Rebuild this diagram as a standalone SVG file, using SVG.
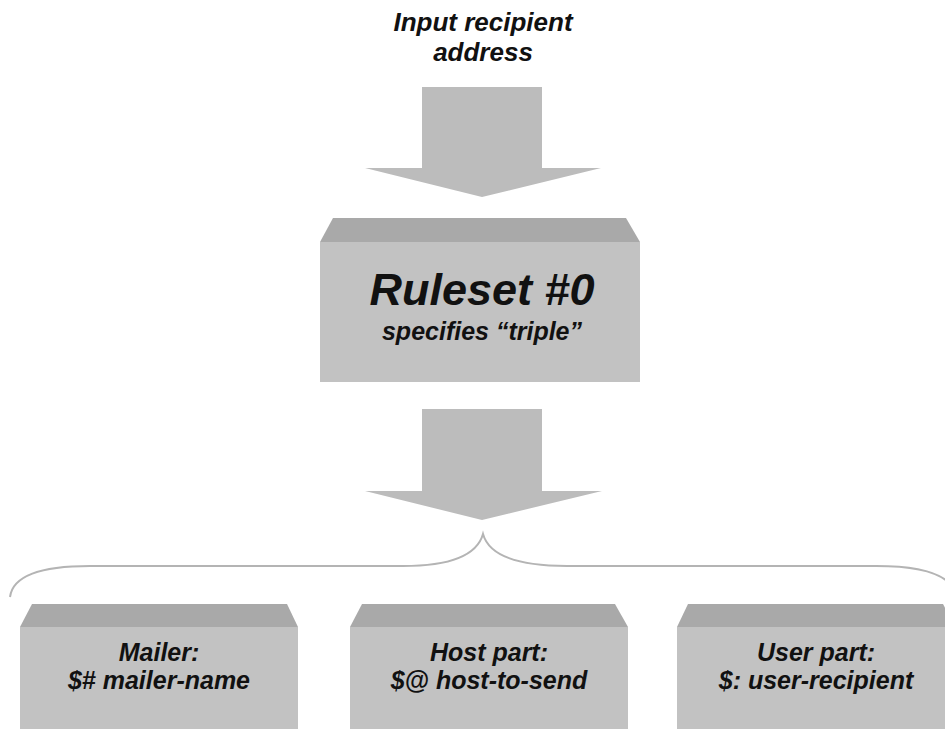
<svg xmlns="http://www.w3.org/2000/svg" width="945" height="729" viewBox="0 0 945 729">
<style>
.arrow{fill:#bcbcbc}
.cap{fill:#a9a9a9}
.body{fill:#c2c2c2}
.brace{fill:none;stroke:#b4b4b4;stroke-width:2}
text{font-family:"Liberation Sans",Arial,sans-serif;font-weight:bold;font-style:italic;fill:#111;text-anchor:middle}
.t26{font-size:26px}
.t25{font-size:25px}
.t45{font-size:45px}
</style>
<rect width="945" height="729" fill="#ffffff"/>
<g id="input-label">
<text class="t26" x="483" y="31">Input recipient</text>
<text class="t26" x="483" y="61">address</text>
</g>
<g id="connectors">
<polygon class="arrow" points="422,87 542,87 542,168 601,168 482,197 365,168 422,168"/>
<polygon class="arrow" points="422,409 542,409 542,491 602,491 482,520 365,491 422,491"/>
<path class="brace" d="M10,597 Q14,566 90,566 L403,566 Q474,566 483,534 Q492,566 567,566 L876,566 Q952,566 956,597"/>
</g>
<g id="ruleset">
<polygon class="cap" points="333,218 626,218 640,242 320,242"/>
<rect class="body" x="320" y="242" width="320" height="140"/>
<text class="t45" x="482" y="305">Ruleset #0</text>
<text class="t25" x="482" y="340">specifies “triple”</text>
</g>
<g id="mailer">
<polygon class="cap" points="32,604 287,604 298,627 20,627"/>
<rect class="body" x="20" y="627" width="278" height="110"/>
<text class="t25" x="159" y="661">Mailer:</text>
<text class="t25" x="159" y="689">$# mailer-name</text>
</g>
<g id="host">
<polygon class="cap" points="362,604 615,604 628,627 350,627"/>
<rect class="body" x="350" y="627" width="278" height="110"/>
<text class="t25" x="489" y="661">Host part:</text>
<text class="t25" x="489" y="689">$@ host-to-send</text>
</g>
<g id="user">
<polygon class="cap" points="688,604 943,604 955,627 677,627"/>
<rect class="body" x="677" y="627" width="278" height="110"/>
<text class="t25" x="816" y="661">User part:</text>
<text class="t25" x="816" y="689">$: user-recipient</text>
</g>
</svg>
